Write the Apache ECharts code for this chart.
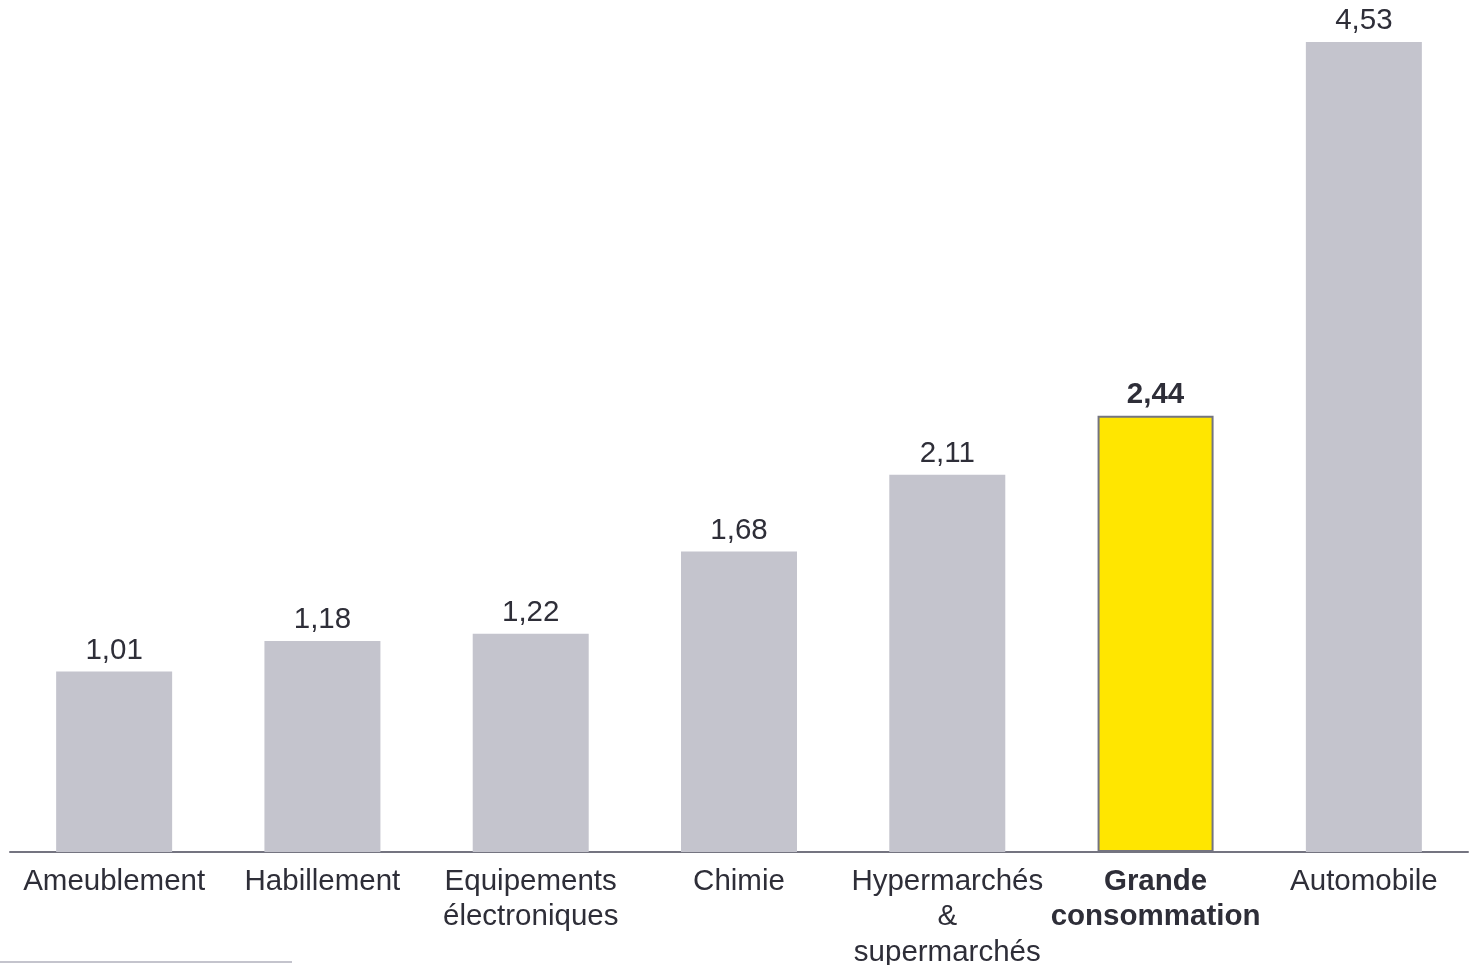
<!DOCTYPE html>
<html><head><meta charset="utf-8">
<script src="https://cdn.jsdelivr.net/npm/echarts@6/dist/echarts.min.js"></script>
<style>html,body{margin:0;padding:0;background:#fff}#c{width:1470px;height:965px}</style>
</head><body><div id="c"></div>
<script>
const categories = ['Ameublement','Habillement','Equipements\nélectroniques','Chimie','Hypermarchés\n&\nsupermarchés','Grande\nconsommation','Automobile'];
const values = [1.01, 1.18, 1.22, 1.68, 2.11, 2.44, 4.53];
const highlightIndex = 5;

const chart = echarts.init(document.getElementById('c'));
const font = 'Liberation Sans, Arial, sans-serif';
chart.setOption({
  animation: false,
  grid: {left: 10, right: 2, top: 42, bottom: 113, containLabel: false, outerBoundsMode: 'none'},
  xAxis: {
    type: 'category',
    data: categories.map((c, i) => i === highlightIndex ? {value: c, textStyle: {fontWeight: 'bold'}} : c),
    axisLine: {lineStyle: {color: '#747480', width: 2}},
    axisTick: {show: false},
    axisLabel: {interval: 0, color: '#2E2E38', fontSize: 29.5, fontFamily: font, lineHeight: 35.5, margin: 12}
  },
  yAxis: {type: 'value', min: 0, max: 4.53, show: false, splitLine: {show: false}},
  series: [{
    type: 'bar',
    barWidth: 116,
    data: values.map((v, i) => i === highlightIndex ? {
      value: v,
      itemStyle: {color: '#FFE600', borderColor: '#747480', borderWidth: 2},
      label: {fontWeight: 'bold'}
    } : v),
    itemStyle: {color: '#C4C4CD'},
    label: {
      show: true, position: 'top', distance: 6,
      color: '#2E2E38', fontSize: 29.5, fontFamily: font,
      formatter: p => p.value.toFixed(2).replace('.', ',')
    }
  }],
  graphic: [{
    type: 'line', shape: {x1: 0, y1: 962, x2: 292, y2: 962},
    style: {stroke: '#C4C4CD', lineWidth: 2}
  }]
});
</script></body></html>
